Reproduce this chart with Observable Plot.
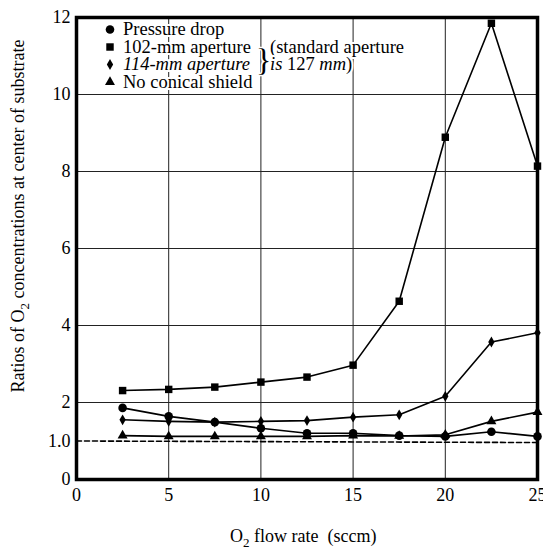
<!DOCTYPE html>
<html><head><meta charset="utf-8">
<script src="https://cdn.jsdelivr.net/npm/d3@7"></script>
<script src="https://cdn.jsdelivr.net/npm/@observablehq/plot@0.6"></script>
<style>body{margin:0;background:#fff}</style>
</head><body><div id="chart"></div>
<script>
// ---- data ----
const flow = [2.5, 5, 7.5, 10, 12.5, 15, 17.5, 20, 22.5, 25];
const pressureDrop = [1.86, 1.64, 1.49, 1.33, 1.20, 1.20, 1.14, 1.12, 1.24, 1.12];
const aperture102  = [2.31, 2.34, 2.40, 2.53, 2.66, 2.97, 4.63, 8.89, 11.85, 8.14];
const aperture114  = [1.55, 1.51, 1.49, 1.51, 1.53, 1.62, 1.68, 2.16, 3.57, 3.81];
const noShield     = [1.14, 1.12, 1.12, 1.12, 1.12, 1.14, 1.13, 1.16, 1.51, 1.75];
const refFlow = [0, 25];
const refRatio = [1.0, 0.96];
const xTicks = [0, 5, 10, 15, 20, 25];
const yTicks = [0, 1, 2, 4, 6, 8, 10, 12];
const yTickLabels = ["0", "1.0", "2", "4", "6", "8", "10", "12"];
const gridX = [5, 10, 15, 20];
const gridY = [2, 4, 6, 8, 10];
const seriesNames = ["Pressure drop", "102-mm aperture", "114-mm aperture", "No conical shield"];

const styles = [
  {symbol: "circle", r: 4.3},
  {symbol: "square", r: 4.2},
  {symbol: "diamond", r: 3.3},
  {symbol: "triangle", r: 3.7}
];
const seriesValues = [pressureDrop, aperture102, aperture114, noShield];
const series = seriesValues.map((vals, i) => flow.map((f, j) => ({flow: f, ratio: vals[j], name: seriesNames[i]})));
const ref = refFlow.map((f, i) => ({flow: f, ratio: refRatio[i]}));

const FONT = "'Liberation Serif', 'DejaVu Serif', serif";

const marks = [
  Plot.ruleX(gridX, {stroke: "#222", strokeWidth: 1}),
  Plot.ruleY(gridY, {stroke: "#222", strokeWidth: 1}),
  Plot.line(ref, {x: "flow", y: "ratio", stroke: "black", strokeWidth: 1.6, strokeDasharray: "5,3"}),
];
series.forEach((s, i) => {
  marks.push(Plot.line(s, {x: "flow", y: "ratio", stroke: "black", strokeWidth: 1.6}));
  marks.push(Plot.dot(s, {x: "flow", y: "ratio", symbol: () => styles[i].symbol, r: styles[i].r, fill: "black", stroke: "none"}));
});
marks.push(Plot.axisX({ticks: xTicks, tickSize: 0, tickPadding: 9, label: null, fontSize: 18, fontFamily: FONT}));
marks.push(Plot.axisY({ticks: yTicks, tickSize: 0, tickPadding: 6, label: null, fontSize: 18, fontFamily: FONT,
  tickFormat: d => yTickLabels[yTicks.indexOf(d)]}));
marks.push(Plot.frame({stroke: "black", strokeWidth: 3.5}));

const chart = Plot.plot({
  width: 543, height: 554,
  marginLeft: 76, marginRight: 6, marginTop: 17, marginBottom: 75,
  x: {domain: [0, 25]},
  y: {domain: [0, 12]},
  style: {fontFamily: FONT, fontSize: "18px", color: "black", background: "white"},
  marks
});
document.getElementById("chart").appendChild(chart);

// ---- legend and axis titles ----
const svg = d3.select(chart);
const txtStyle = (size) => `font-family: ${FONT}; font-size: ${size}px;`;
const lg = svg.append("g").attr("text-anchor", "start");
const rowY = [35, 52.5, 70, 87.5];
seriesNames.forEach((name, i) => {
  lg.append("text")
    .attr("x", 123).attr("y", rowY[i])
    .attr("style", txtStyle(18.5) + (i === 2 ? " font-style: italic;" : ""))
    .attr("stroke", "white").attr("stroke-width", 4).attr("paint-order", "stroke")
    .text(name);
});
seriesNames.forEach((name, i) => {
  const sym = {circle: d3.symbolCircle, square: d3.symbolSquare, diamond: d3.symbolDiamond, triangle: d3.symbolTriangle}[styles[i].symbol];
  lg.append("path")
    .attr("d", d3.symbol(sym, Math.PI * styles[i].r * styles[i].r)())
    .attr("transform", `translate(110,${rowY[i] - 5.5})`)
    .attr("fill", "black");
});
lg.append("text").attr("x", 256).attr("y", 71)
  .attr("style", txtStyle(32) + " font-weight: 300;")
  .attr("stroke", "white").attr("stroke-width", 3).attr("paint-order", "stroke")
  .text("}");
const t1 = lg.append("text").attr("x", 270).attr("y", 52.5).attr("style", txtStyle(18.5))
  .attr("stroke", "white").attr("stroke-width", 4).attr("paint-order", "stroke");
t1.text("(standard aperture");
const t2 = lg.append("text").attr("x", 270).attr("y", 70).attr("style", txtStyle(18.5))
  .attr("stroke", "white").attr("stroke-width", 4).attr("paint-order", "stroke");
t2.append("tspan").attr("font-style", "italic").text("is");
t2.append("tspan").text(" 127 ");
t2.append("tspan").attr("font-style", "italic").text("mm");
t2.append("tspan").text(")");

// y title
const yt = svg.append("text").attr("style", txtStyle(18))
  .attr("text-anchor", "middle")
  .attr("transform", "translate(24,216) rotate(-90)");
yt.append("tspan").text("Ratios of O");
yt.append("tspan").attr("style", "font-size: 13px").attr("dy", 5).text("2");
yt.append("tspan").attr("dy", -5).text(" concentrations at center of substrate");

// x title
const xt = svg.append("text").attr("style", txtStyle(18))
  .attr("text-anchor", "start")
  .attr("x", 230).attr("y", 542);
xt.append("tspan").text("O");
xt.append("tspan").attr("style", "font-size: 13px").attr("dy", 5).text("2");
xt.append("tspan").attr("dy", -5).text(" flow rate\u00a0\u00a0(sccm)");
</script>
</body></html>
